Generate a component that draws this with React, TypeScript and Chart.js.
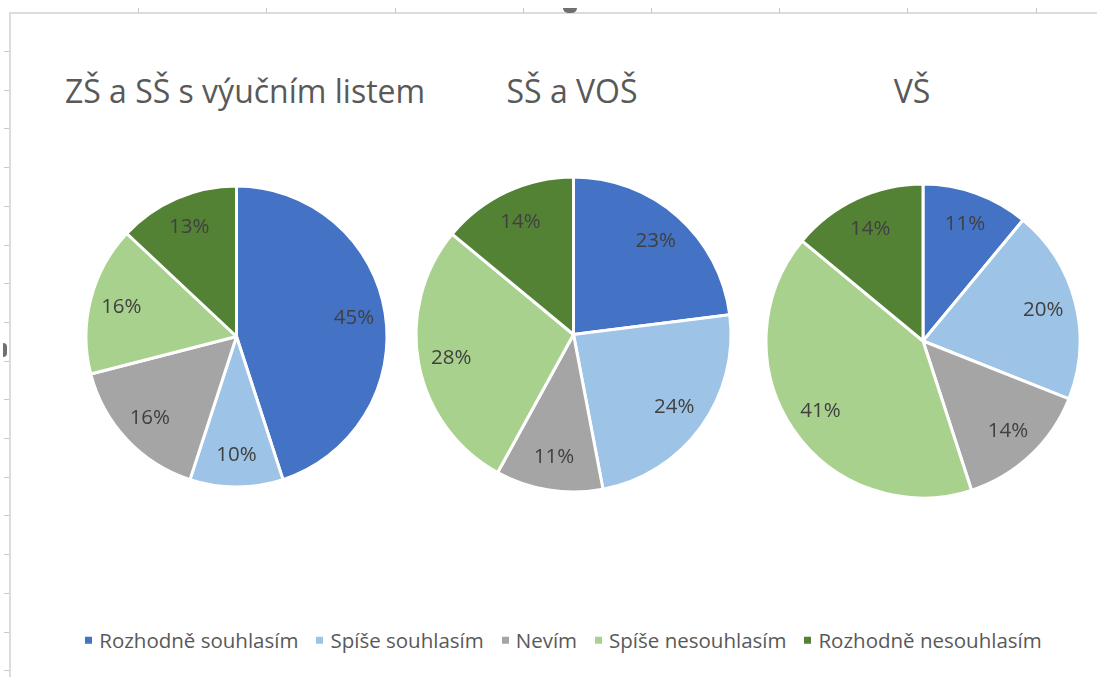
import React, { useEffect, useRef } from "react";
import { Chart, registerables } from "chart.js";

Chart.register(...registerables);

const categories = ["Rozhodně souhlasím", "Spíše souhlasím", "Nevím", "Spíše nesouhlasím", "Rozhodně nesouhlasím"];
const sliceColors = ["#4472C4", "#9DC3E6", "#A5A5A5", "#A9D18E", "#548235"];
const titleZS = "ZŠ a SŠ s výučním listem";
const titleSS = "SŠ a VOŠ";
const titleVS = "VŠ";
const valuesZS = [45, 10, 16, 16, 13];
const valuesSS = [23, 24, 11, 28, 14];
const valuesVS = [11, 20, 14, 41, 14];

const FONT = "'Open Sans', 'DejaVu Sans', sans-serif";

const labelPlugin = {
  id: "sliceLabels",
  afterDatasetsDraw(chart: any) {
    const ctx = chart.ctx;
    const ds = chart.data.datasets[0];
    const meta = chart.getDatasetMeta(0);
    ctx.save();
    ctx.font = `20.5px ${FONT}`;
    ctx.fillStyle = "#404040";
    ctx.textAlign = "center";
    ctx.textBaseline = "middle";
    meta.data.forEach((arc: any, i: number) => {
      const p = arc.getProps(["x", "y", "startAngle", "endAngle", "outerRadius"], true);
      const mid = (p.startAngle + p.endAngle) / 2;
      const r = p.outerRadius * 0.79;
      ctx.fillText(`${ds.data[i]}%`, p.x + Math.cos(mid) * r, p.y + Math.sin(mid) * r);
    });
    ctx.restore();
  },
};

type PieProps = { values: number[]; cx: number; cy: number; radius: number };

function Pie({ values, cx, cy, radius }: PieProps) {
  const ref = useRef<HTMLCanvasElement | null>(null);
  const size = Math.round(radius * 2 + 16);
  useEffect(() => {
    if (!ref.current) return;
    const chart = new Chart(ref.current, {
      type: "pie",
      data: {
        labels: categories,
        datasets: [
          {
            data: values,
            backgroundColor: sliceColors,
            borderColor: "#ffffff",
            borderWidth: 3,
            hoverBorderWidth: 3,
            hoverOffset: 0,
            radius: radius,
          } as any,
        ],
      },
      options: {
        responsive: false,
        animation: false,
        layout: { padding: 0 },
        plugins: {
          legend: { display: false },
          tooltip: { enabled: false },
          title: { display: false },
        },
      },
      plugins: [labelPlugin],
    });
    return () => chart.destroy();
  }, []);
  return (
    <canvas
      ref={ref}
      width={size}
      height={size}
      style={{ position: "absolute", left: cx - size / 2, top: cy - size / 2, width: size, height: size }}
    />
  );
}

function Title({ text, cx, cy }: { text: string; cx: number; cy: number }) {
  return (
    <div
      style={{
        position: "absolute",
        left: cx,
        top: cy,
        transform: "translate(-50%, -50%)",
        fontFamily: FONT,
        fontSize: 32,
        lineHeight: 1,
        color: "#595959",
        whiteSpace: "nowrap",
      }}
    >
      {text}
    </div>
  );
}

export default function App() {
  const topTicks = [];
  for (let i = 1; i <= 8; i++) topTicks.push(10 + i * 128.2);
  const leftTicks = [];
  for (let i = 0; i < 17; i++) leftTicks.push(51 + i * 38.7);
  return (
    <div style={{ position: "absolute", left: 0, top: 0, width: 1097, height: 677, background: "#fff", overflow: "hidden" }}>
      <div style={{ position: "absolute", left: 9, top: 12, width: 2, height: 665, background: "#dcdcdc" }} />
      <div style={{ position: "absolute", left: 9, top: 12, width: 1088, height: 2, background: "#dcdcdc" }} />
      {topTicks.map((x, i) => (
        <div key={"t" + i} style={{ position: "absolute", left: Math.round(x), top: 8, width: 1, height: 5, background: "#c8c8c8" }} />
      ))}
      {leftTicks.map((y, i) => (
        <div key={"l" + i} style={{ position: "absolute", left: 4, top: Math.round(y), width: 5, height: 1, background: "#c8c8c8" }} />
      ))}
      <div style={{ position: "absolute", left: 563, top: 8, width: 14, height: 5, background: "#707070", borderRadius: "0 0 7px 7px" }} />
      <div style={{ position: "absolute", left: 3, top: 343, width: 4, height: 14, background: "#707070", borderRadius: "0 7px 7px 0" }} />

      <Title text={titleZS} cx={245} cy={91} />
      <Title text={titleSS} cx={572} cy={91} />
      <Title text={titleVS} cx={912} cy={91} />

      <Pie values={valuesZS} cx={236.5} cy={336.5} radius={150.5} />
      <Pie values={valuesSS} cx={573.5} cy={334} radius={157.5} />
      <Pie values={valuesVS} cx={922.5} cy={341} radius={157} />

      <div
        style={{
          position: "absolute",
          left: 0,
          top: 640,
          width: 1127,
          display: "flex",
          justifyContent: "center",
          alignItems: "center",
          transform: "translateY(-50%)",
          fontFamily: FONT,
          fontSize: 20.5,
          lineHeight: 1,
          color: "#595959",
          whiteSpace: "nowrap",
        }}
      >
        {categories.map((c, i) => (
          <div key={c} style={{ display: "flex", alignItems: "center", marginRight: i < categories.length - 1 ? 18 : 0 }}>
            <span style={{ display: "inline-block", width: 7, height: 7, background: sliceColors[i], marginRight: 7 }} />
            <span>{c}</span>
          </div>
        ))}
      </div>
    </div>
  );
}
